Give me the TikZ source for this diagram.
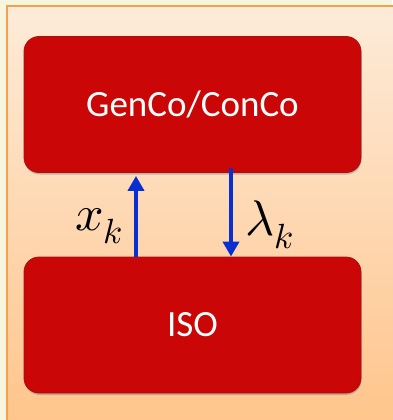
\documentclass[tikz,border=0pt]{standalone}
\usepackage{fontspec}
\usepackage{unicode-math}
\setmainfont{Carlito}
\setmathfont{Latin Modern Math}
\usetikzlibrary{arrows.meta,shadows}
\definecolor{pagebg}{HTML}{F8F5DE}
\definecolor{paneltop}{HTML}{FDEBD9}
\definecolor{panelbot}{HTML}{FFC58C}
\definecolor{panelline}{HTML}{F5A04C}
\definecolor{boxred}{HTML}{CA0606}
\definecolor{boxedge}{HTML}{A41212}
\definecolor{flowblue}{HTML}{0A2FD0}
\tikzset{
  x=1pt, y=-1pt,
  block/.style={draw=boxedge, line width=0.8pt, fill=boxred, rounded corners=15pt,
    minimum width=337pt, minimum height=136pt, text=white, font=\fontsize{37}{44}\selectfont,
    drop shadow={shadow xshift=0.5pt, shadow yshift=-2pt, fill=black!45, opacity=0.5}},
  flow/.style={draw=flowblue, line width=4pt, -{Triangle[length=15pt,width=16pt]}},
  lbl/.style={font=\fontsize{50}{56}\selectfont}
}
\begin{document}
\begin{tikzpicture}
\useasboundingbox (0,0) rectangle (392,420);
\fill[pagebg] (0,0) rectangle (392,420);
\shade[top color=paneltop, bottom color=panelbot] (7,6) rectangle (394,422);
\draw[panelline, line width=1.6pt] (394,6) -- (7,6) -- (7,422);
\node[block] (gen) at (192.5,104.5) {GenCo/ConCo};
\node[block] (iso) at (192.5,325) {ISO};
\draw[flow, shorten >=3pt] (iso.north -| 136,0) -- (gen.south -| 136,0);
\draw[flow, shorten <=-5pt] (gen.south -| 231,0) -- (iso.north -| 231,0);
\node[lbl] (xk) at (99,226) {$x_k$};
\node[lbl] (lk) at (270,225) {$\lambda_k$};
\end{tikzpicture}
\end{document}
